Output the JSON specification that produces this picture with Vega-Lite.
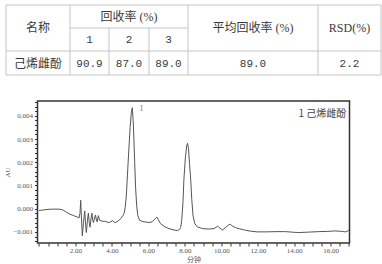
{
  "$schema": "https://vega.github.io/schema/vega-lite/v6.json",
  "padding": {"left": 3, "top": 4, "right": 0, "bottom": 0},
  "background": "white",
  "spacing": 26,
  "center": true,
  "bounds": "flush",
  "config": {"view": {"stroke": null}},
  "vconcat": [
    {
      "width": 375,
      "height": 70,
      "view": {"stroke": null},
      "layer": [
        {
          "data": {"values": [
            {"x1": 0, "x2": 375, "y1": 0, "y2": 0},
            {"x1": 64, "x2": 182, "y1": 23, "y2": 23},
            {"x1": 0, "x2": 375, "y1": 46, "y2": 46},
            {"x1": 0, "x2": 375, "y1": 70, "y2": 70},
            {"x1": 0, "x2": 0, "y1": 0, "y2": 70},
            {"x1": 64, "x2": 64, "y1": 0, "y2": 70},
            {"x1": 103, "x2": 103, "y1": 23, "y2": 70},
            {"x1": 143, "x2": 143, "y1": 23, "y2": 70},
            {"x1": 182, "x2": 182, "y1": 0, "y2": 70},
            {"x1": 312, "x2": 312, "y1": 0, "y2": 70},
            {"x1": 375, "x2": 375, "y1": 0, "y2": 70}
          ]},
          "mark": {"type": "rule", "color": "#c4c4c4", "strokeWidth": 1},
          "encoding": {
            "x": {"field": "x1", "type": "quantitative", "scale": {"domain": [0, 375], "nice": false, "zero": false}, "axis": null},
            "x2": {"field": "x2"},
            "y": {"field": "y1", "type": "quantitative", "scale": {"domain": [0, 70], "nice": false, "zero": false, "reverse": true}, "axis": null},
            "y2": {"field": "y2"}
          }
        },
        {
          "data": {"name": "cells", "values": [
            {"label": "名称", "cx": 32, "cy": 23},
            {"label": "回收率 (%)", "cx": 123, "cy": 11.5},
            {"label": "1", "cx": 83.5, "cy": 35},
            {"label": "2", "cx": 123, "cy": 35},
            {"label": "3", "cx": 162.5, "cy": 35},
            {"label": "平均回收率 (%)", "cx": 247, "cy": 23},
            {"label": "RSD(%)", "cx": 343.5, "cy": 23},
            {"label": "己烯雌酚", "cx": 32, "cy": 58.5},
            {"label": "90.9", "cx": 83.5, "cy": 58.5},
            {"label": "87.0", "cx": 123, "cy": 58.5},
            {"label": "89.0", "cx": 162.5, "cy": 58.5},
            {"label": "89.0", "cx": 247, "cy": 58.5},
            {"label": "2.2", "cx": 343.5, "cy": 58.5}
          ]},
          "layer": [
            {
              "transform": [{"filter": "!test(/^[0-9.]+$/, datum.label)"}],
              "mark": {"type": "text", "font": "Liberation Serif, Noto Sans CJK SC", "fontSize": 12, "color": "#3a3a3a", "align": "center", "baseline": "middle"},
              "encoding": {
                "x": {"field": "cx", "type": "quantitative"},
                "y": {"field": "cy", "type": "quantitative"},
                "text": {"field": "label"}
              }
            },
            {
              "transform": [{"filter": "test(/^[0-9.]+$/, datum.label)"}],
              "mark": {"type": "text", "font": "Liberation Mono", "fontSize": 11, "color": "#3a3a3a", "align": "center", "baseline": "middle"},
              "encoding": {
                "x": {"field": "cx", "type": "quantitative"},
                "y": {"field": "cy", "type": "quantitative"},
                "text": {"field": "label"}
              }
            }
          ]
        }
      ]
    },
    {
      "width": 312,
      "height": 142,
      "view": {"stroke": "#333", "strokeWidth": 1.5},
      "encoding": {
        "x": {
          "field": "t", "type": "quantitative",
          "scale": {"domain": [-0.08, 17.03], "nice": false, "zero": false},
          "axis": {
            "title": "分钟",
            "values": [0,0.5,1,1.5,2,2.5,3,3.5,4,4.5,5,5.5,6,6.5,7,7.5,8,8.5,9,9.5,10,10.5,11,11.5,12,12.5,13,13.5,14,14.5,15,15.5,16,16.5,17],
            "labelExpr": "datum.value % 2 == 0 && datum.value > 0 ? format(datum.value, '.2f') : ''",
            "grid": false, "domain": false,
            "tickColor": "#333", "tickSize": 3, "tickWidth": 1,
            "labelFont": "Liberation Serif", "labelFontSize": 7, "labelColor": "#555", "labelPadding": 0,
            "labelFlush": false,
            "titleFont": "Noto Sans CJK SC", "titleFontSize": 7, "titleFontWeight": "normal", "titleColor": "#555", "titlePadding": 2
          }
        },
        "y": {
          "field": "au", "type": "quantitative",
          "scale": {"domain": [-0.00148, 0.00464], "nice": false, "zero": false},
          "axis": {
            "title": "AU",
            "values": [-0.0014,-0.0012,-0.001,-0.0008,-0.0006,-0.0004,-0.0002,0,0.0002,0.0004,0.0006,0.0008,0.001,0.0012,0.0014,0.0016,0.0018,0.002,0.0022,0.0024,0.0026,0.0028,0.003,0.0032,0.0034,0.0036,0.0038,0.004,0.0042,0.0044,0.0046],
            "labelExpr": "abs(round(datum.value * 10000)) % 10 == 0 ? format(datum.value, '.3f') : ''",
            "grid": false, "domain": false,
            "tickColor": "#333", "tickSize": 3, "tickWidth": 1,
            "labelFont": "Liberation Serif", "labelFontSize": 7, "labelColor": "#555", "labelPadding": 2,
            "labelFlush": false,
            "titleFont": "Liberation Serif", "titleFontSize": 7, "titleFontWeight": "normal", "titleColor": "#555", "titlePadding": 2
          }
        }
      },
      "layer": [
        {
          "data": {"values": [
            {"t": 0.0, "au": -0.00008}, {"t": 0.2, "au": -0.00006}, {"t": 0.5, "au": -0.00003}, {"t": 0.8, "au": -0.00002},
            {"t": 1.1, "au": -0.00002}, {"t": 1.3, "au": -0.00005}, {"t": 1.5, "au": -0.00015}, {"t": 1.7, "au": -0.00024},
            {"t": 1.9, "au": -0.0003}, {"t": 2.1, "au": -0.00036}, {"t": 2.2, "au": -0.0004}, {"t": 2.25, "au": -0.0002},
            {"t": 2.29, "au": 0.00036}, {"t": 2.33, "au": -0.0004}, {"t": 2.38, "au": -0.00118}, {"t": 2.44, "au": -0.0006},
            {"t": 2.51, "au": -0.0001}, {"t": 2.56, "au": -0.0007}, {"t": 2.6, "au": -0.00103}, {"t": 2.66, "au": -0.0005},
            {"t": 2.71, "au": -0.00019}, {"t": 2.76, "au": -0.0006}, {"t": 2.8, "au": -0.0008}, {"t": 2.86, "au": -0.0004},
            {"t": 2.91, "au": -0.0002}, {"t": 2.95, "au": -0.0005}, {"t": 2.99, "au": -0.0006}, {"t": 3.05, "au": -0.0004},
            {"t": 3.1, "au": -0.00027}, {"t": 3.15, "au": -0.0005}, {"t": 3.19, "au": -0.00057}, {"t": 3.23, "au": -0.0004},
            {"t": 3.26, "au": -0.0003}, {"t": 3.32, "au": -0.0005}, {"t": 3.4, "au": -0.00052}, {"t": 3.5, "au": -0.00055},
            {"t": 3.6, "au": -0.00054}, {"t": 3.75, "au": -0.00058}, {"t": 3.85, "au": -0.0006}, {"t": 3.95, "au": -0.00055},
            {"t": 4.03, "au": -0.00052}, {"t": 4.12, "au": -0.00058}, {"t": 4.21, "au": -0.0006}, {"t": 4.3, "au": -0.00055},
            {"t": 4.39, "au": -0.0005}, {"t": 4.5, "au": -0.00042}, {"t": 4.6, "au": -0.0003}, {"t": 4.67, "au": -0.0002},
            {"t": 4.73, "au": 0.00005}, {"t": 4.79, "au": 0.00055}, {"t": 4.87, "au": 0.0017}, {"t": 4.94, "au": 0.0027},
            {"t": 5.0, "au": 0.0035}, {"t": 5.06, "au": 0.0041}, {"t": 5.12, "au": 0.00435}, {"t": 5.18, "au": 0.0036},
            {"t": 5.25, "au": 0.002}, {"t": 5.3, "au": 0.0009}, {"t": 5.36, "au": 0.00012}, {"t": 5.42, "au": -0.0003},
            {"t": 5.52, "au": -0.0005}, {"t": 5.7, "au": -0.00056}, {"t": 5.9, "au": -0.00058}, {"t": 6.04, "au": -0.0006},
            {"t": 6.2, "au": -0.00057}, {"t": 6.35, "au": -0.00045}, {"t": 6.46, "au": -0.00036}, {"t": 6.55, "au": -0.00048},
            {"t": 6.67, "au": -0.00065}, {"t": 6.9, "au": -0.00078}, {"t": 7.13, "au": -0.00086}, {"t": 7.4, "au": -0.00092},
            {"t": 7.59, "au": -0.00095}, {"t": 7.7, "au": -0.0009}, {"t": 7.77, "au": -0.00082}, {"t": 7.83, "au": -0.0005},
            {"t": 7.9, "au": 0.0003}, {"t": 7.95, "au": 0.00128}, {"t": 8.03, "au": 0.0022}, {"t": 8.1, "au": 0.0027},
            {"t": 8.15, "au": 0.00282}, {"t": 8.2, "au": 0.0026}, {"t": 8.26, "au": 0.0019}, {"t": 8.32, "au": 0.00128},
            {"t": 8.38, "au": 0.0004}, {"t": 8.45, "au": -0.00031}, {"t": 8.55, "au": -0.00065}, {"t": 8.68, "au": -0.00078},
            {"t": 8.96, "au": -0.00086}, {"t": 9.32, "au": -0.00088}, {"t": 9.6, "au": -0.00086}, {"t": 9.72, "au": -0.0008},
            {"t": 9.8, "au": -0.00075}, {"t": 9.9, "au": -0.00083}, {"t": 10.07, "au": -0.00092}, {"t": 10.25, "au": -0.0008},
            {"t": 10.4, "au": -0.0007}, {"t": 10.5, "au": -0.00067}, {"t": 10.6, "au": -0.00075}, {"t": 10.78, "au": -0.00082},
            {"t": 11.0, "au": -0.00087}, {"t": 11.33, "au": -0.00093}, {"t": 11.6, "au": -0.00097}, {"t": 11.97, "au": -0.001},
            {"t": 12.5, "au": -0.001}, {"t": 13.0, "au": -0.00099}, {"t": 13.52, "au": -0.00099}, {"t": 14.0, "au": -0.00102},
            {"t": 14.25, "au": -0.00103}, {"t": 14.8, "au": -0.00101}, {"t": 15.35, "au": -0.00099}, {"t": 15.8, "au": -0.00098},
            {"t": 16.26, "au": -0.00096}, {"t": 16.6, "au": -0.00098}, {"t": 16.8, "au": -0.001}, {"t": 16.9, "au": -0.00098},
            {"t": 17.0, "au": -0.00092}
          ]},
          "mark": {"type": "line", "color": "#555", "strokeWidth": 1, "interpolate": "linear"}
        },
        {
          "data": {"values": [{"t": 5.63, "au": 0.0043, "label": "1"}]},
          "mark": {"type": "text", "font": "Liberation Serif", "fontSize": 8, "color": "#777", "align": "center", "baseline": "middle"},
          "encoding": {"text": {"field": "label"}}
        },
        {
          "data": {"values": [{"t": 16.85, "au": 0.0041, "label": "1 己烯雌酚"}]},
          "mark": {"type": "text", "font": "Noto Sans CJK SC", "fontSize": 10, "color": "#444", "align": "right", "baseline": "middle"},
          "encoding": {"text": {"field": "label"}}
        }
      ]
    }
  ]
}
